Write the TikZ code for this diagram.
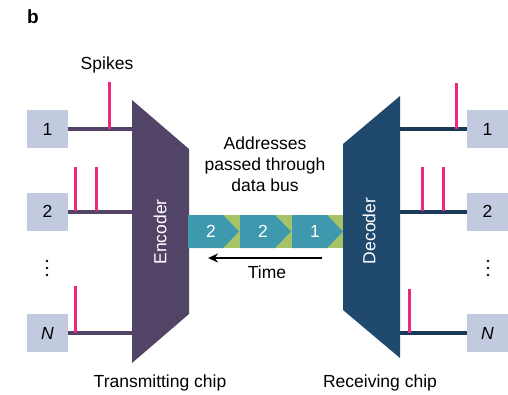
\documentclass[tikz,border=0pt]{standalone}
\usepackage{fontspec}
\setmainfont{Liberation Sans}
\usetikzlibrary{positioning,arrows.meta}

\definecolor{encpurple}{HTML}{524466}
\definecolor{decblue}{HTML}{1F4A6E}
\definecolor{wireblue}{HTML}{1B3A57}
\definecolor{boxgray}{HTML}{C2CADF}
\definecolor{spikepink}{HTML}{EB2A7D}
\definecolor{busteal}{HTML}{3E98AE}
\definecolor{busgreen}{HTML}{A6C467}

\tikzset{
    txt/.style={font=\fontsize{17.5}{21}\selectfont, inner sep=0pt, align=center},
    neuron/.style={txt, fill=boxgray, minimum width=41pt, minimum height=38pt},
    spike/.style={spikepink, line width=3pt},
    wire/.style={line width=4pt},
}

\begin{document}
\begin{tikzpicture}[x=1pt,y=-1pt]
    \useasboundingbox (0,0) rectangle (508,394);

    \node[font=\bfseries\fontsize{19}{21}\selectfont] (panel) at (33,17) {b};

    % chips: encoder and decoder
    \coordinate (encTL) at (132,100);
    \coordinate (encTR) at (189,149);
    \coordinate (encBR) at (189,314);
    \coordinate (encBL) at (132,363);
    \fill[encpurple] (encTL) -- (encTR) -- (encBR) -- (encBL) -- cycle;
    \node[txt, white, rotate=90] (enclbl) at (160,232) {Encoder};

    \coordinate (decTL) at (343,144);
    \coordinate (decTR) at (400,96);
    \coordinate (decBR) at (400,358);
    \coordinate (decBL) at (343,310);
    \fill[decblue] (decTL) -- (decTR) -- (decBR) -- (decBL) -- cycle;
    \node[txt, white, rotate=90] (declbl) at (369,231) {Decoder};

    % neurons on both sides
    \node[neuron] (in1) at (47.5,129) {1};
    \node[neuron] (in2) at (47.5,211.5) {2};
    \node[neuron] (inN) at (47.5,333) {\textit{N}};
    \coordinate (indots) at (47,268);

    \node[neuron] (out1) at (487.5,129) {1};
    \node[neuron] (out2) at (487.5,211.5) {2};
    \node[neuron] (outN) at (487.5,333) {\textit{N}};
    \coordinate (outdots) at (488,268);

    \foreach \d in {-7,0,7} {
        \fill (indots) ++(0,\d) circle (1.4pt);
        \fill (outdots) ++(0,\d) circle (1.4pt);
    }

    \draw[wire, encpurple] (in1.east) -- (in1.east -| encTL);
    \draw[wire, encpurple] (in2.east) -- (in2.east -| encTL);
    \draw[wire, encpurple] (inN.east) -- (inN.east -| encTL);
    \draw[wire, wireblue] (out1.west) -- (out1.west -| decTR);
    \draw[wire, wireblue] (out2.west) -- (out2.west -| decTR);
    \draw[wire, wireblue] (outN.west) -- (outN.west -| decTR);

    % spikes sitting on the wires
    \draw[spike] (109,129) -- (109,82);
    \draw[spike] (75,211) -- (75,167);
    \draw[spike] (96,211) -- (96,167);
    \draw[spike] (75,333) -- (75,286);
    \draw[spike] (456,129) -- (456,83);
    \draw[spike] (422,211) -- (422,167);
    \draw[spike] (443,211) -- (443,167);
    \draw[spike] (409,333) -- (409,289);

    \node[txt] (spikes) at (107,65) {Spikes};

    % data bus with address packets
    \fill[busgreen] (188,215) rectangle (343,248);
    \foreach \x/\n [count=\i] in {188/2,240/2,292/1} {
        \fill[busteal] (\x,215) -- ++(35,0) -- ++(16,16.5) -- ++(-16,16.5) -- ++(-35,0) -- cycle;
        \node[txt, white] (addr\i) at (\x+23,231.5) {\n};
    }

    \node[txt] (buslbl) at (265,164) {Addresses\\passed through\\data bus};

    \coordinate (tstart) at (322,258);
    \coordinate (tend) at (208,258);
    \draw[line width=1.6pt, -{Stealth[length=10pt,width=9pt]}] (tstart) -- (tend);
    \node[txt] (time) at (267,272) {Time};

    \node[txt] (txchip) at (160,383) {Transmitting chip};
    \node[txt] (rxchip) at (380,383) {Receiving chip};
\end{tikzpicture}
\end{document}
